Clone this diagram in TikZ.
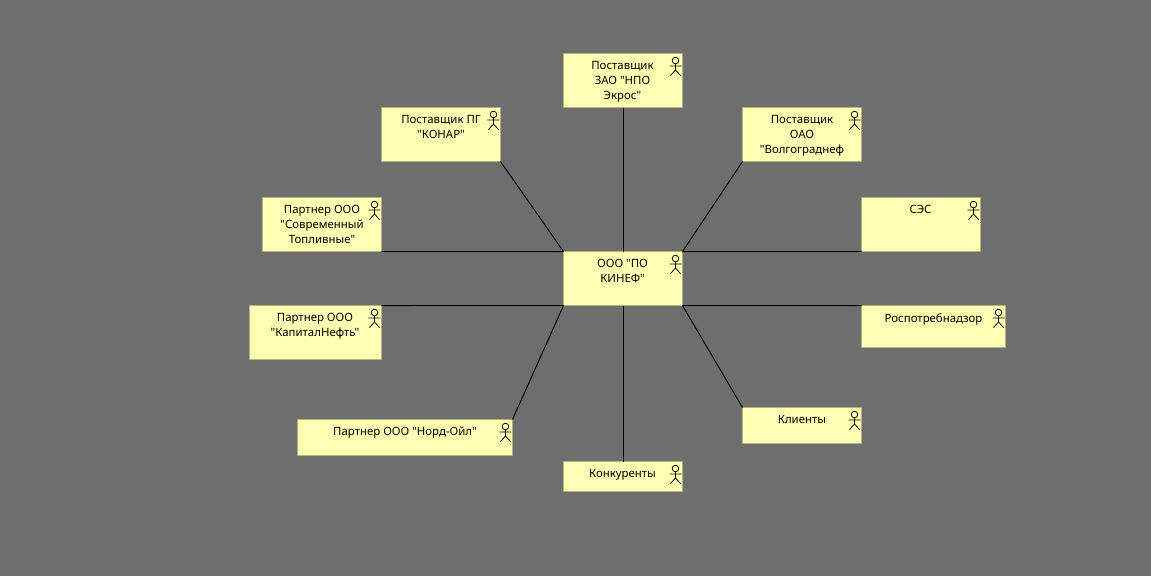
\documentclass[tikz,border=0pt]{standalone}
\usepackage{fontspec}
\newfontfamily\boxfont{Noto Sans}
\definecolor{bggray}{HTML}{6E6E6E}
\definecolor{boxfill}{HTML}{FFFFB4}
\definecolor{boxedge}{HTML}{B4B478}
\tikzset{
	actorbox/.style={draw=boxedge,fill=boxfill,line width=.55pt,inner sep=0pt,outer sep=0pt},
	boxtext/.style={anchor=north,align=center,inner sep=0pt,font=\boxfont\fontsize{6.5}{8.5}\selectfont},
	link/.style={line width=.55pt},
	actor/.pic={
		\draw[line width=.45pt] (0,0) circle (3.3)
			(0,3.3)--(0,9.5) (-6,5.5)--(6,5.5) (-5,15)--(0,9.5)--(5,15);
	}
}
\begin{document}
\begin{tikzpicture}[x=.02cm,y=-.02cm,line join=round]
	\fill[bggray] (0,0) rectangle (1151,576);
	% boxes
	\node[actorbox,minimum width=2.38cm,minimum height=1.08cm] (kinef) at (623,278.5) {};
	\node[actorbox,minimum width=2.38cm,minimum height=1.08cm] (ekros) at (623,80.5) {};
	\node[actorbox,minimum width=2.38cm,minimum height=1.08cm] (konar) at (441,134.5) {};
	\node[actorbox,minimum width=2.38cm,minimum height=1.08cm] (volgo) at (802,134.5) {};
	\node[actorbox,minimum width=2.38cm,minimum height=1.08cm] (ses) at (921,224.5) {};
	\node[actorbox,minimum width=2.38cm,minimum height=1.08cm] (sovr) at (322,224.5) {};
	\node[actorbox,minimum width=2.64cm,minimum height=1.08cm] (kapital) at (315.5,332.5) {};
	\node[actorbox,minimum width=4.3cm,minimum height=.72cm] (nord) at (405,437.5) {};
	\node[actorbox,minimum width=2.38cm,minimum height=.6cm] (konk) at (623,476.5) {};
	\node[actorbox,minimum width=2.38cm,minimum height=.72cm] (klient) at (802,425.5) {};
	\node[actorbox,minimum width=2.88cm,minimum height=.84cm] (rospo) at (933.5,326.5) {};
	% links
	\draw[link] (ekros.south)--(kinef.north);
	\draw[link] (konar.south east)--(kinef.north west);
	\draw[link] (volgo.south west)--(kinef.north east);
	\draw[link] (ses.south west)--(kinef.north east);
	\draw[link] (sovr.south east)--(kinef.north west);
	\draw[link] (kapital.north east)--(kinef.south west);
	\draw[link] (nord.north east)--(kinef.south west);
	\draw[link] (konk.north)--(kinef.south);
	\draw[link] (klient.north west)--(kinef.south east);
	\draw[link] (rospo.north west)--(kinef.south east);
	% labels
	\node[boxtext] (kineft) at (622.5,259) {ООО "ПО\\КИНЕФ"};
	\node[boxtext] (ekrost) at (622.5,61) {Поставщик\\ЗАО "НПО\\Экрос"};
	\node[boxtext] (konart) at (441,115) {Поставщик ПГ\\"КОНАР"};
	\node[boxtext] (volgot) at (802,115) {Поставщик\\ОАО\\"Волгограднеф};
	\node[boxtext] (sest) at (920.5,205) {СЭС};
	\node[boxtext] (sovrt) at (322,205) {Партнер ООО\\"Современный\\Топливные"};
	\node[boxtext] (kapitalt) at (315,313) {Партнер ООО\\"КапиталНефть"};
	\node[boxtext] (nordt) at (405,427) {Партнер ООО "Норд-Ойл"};
	\node[boxtext] (konkt) at (622.5,469) {Конкуренты};
	\node[boxtext] (klientt) at (802,415) {Клиенты};
	\node[boxtext] (rospot) at (933.5,313) {Роспотребнадзор};
	% actors
	\foreach \n in {kinef,ekros,konar,volgo,ses,sovr,kapital,nord,konk,klient,rospo}
		\pic at ([xshift=-.14cm,yshift=-.14cm]\n.north east) {actor};
\end{tikzpicture}
\end{document}
